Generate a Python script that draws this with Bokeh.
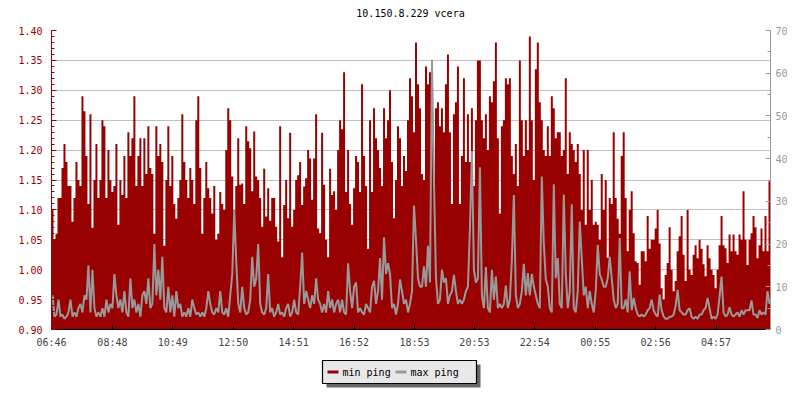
from bokeh.plotting import figure
from bokeh.layouts import column
from bokeh.models import (Range1d, LinearAxis, FixedTicker, PrintfTickFormatter)
from bokeh.core.properties import value
from bokeh.embed import file_html
from bokeh.resources import INLINE

title_text = "10.150.8.229 vcera"
legend_labels = ["min ping", "max ping"]
time_labels = ["06:46", "08:48", "10:49", "12:50", "14:51", "16:52",
               "18:53", "20:53", "22:54", "00:55", "02:56", "04:57"]
left_ticks = [0.90, 0.95, 1.00, 1.05, 1.10, 1.15, 1.20, 1.25, 1.30, 1.35, 1.40]
right_ticks = [0, 10, 20, 30, 40, 50, 60, 70]

# min ping (ms, left axis), one value per 4 minutes over 24 h
min_ping = [
    1.10, 1.05, 1.06, 1.12, 1.12, 1.17, 1.21, 1.18, 1.14, 1.14, 1.08, 1.12, 1.18, 1.15, 1.14, 1.29, 1.265, 1.19,
    1.11, 1.26, 1.07, 1.15, 1.21, 1.12, 1.15, 1.25, 1.24, 1.12, 1.20, 1.15, 1.13, 1.14, 1.21, 1.075, 1.15, 1.125,
    1.19, 1.12, 1.23, 1.19, 1.22, 1.29, 1.14, 1.19, 1.22, 1.14, 1.22, 1.16, 1.24, 1.17, 1.16, 1.06, 1.24, 1.19,
    1.21, 1.18, 1.04, 1.15, 1.24, 1.14, 1.19, 1.11, 1.085, 1.12, 1.15, 1.26, 1.18, 1.15, 1.12, 1.17, 1.15, 1.11,
    1.25, 1.29, 1.17, 1.06, 1.12, 1.18, 1.136, 1.12, 1.094, 1.14, 1.05, 1.06, 1.13, 1.11, 1.10, 1.20, 1.27, 1.25,
    1.156, 1.10, 1.14, 1.22, 1.142, 1.144, 1.11, 1.24, 1.215, 1.203, 1.131, 1.231, 1.156, 1.15, 1.12, 1.072, 1.169, 1.089,
    1.136, 1.082, 1.12, 1.12, 1.072, 1.047, 1.24, 1.021, 1.108, 1.15, 1.086, 1.229, 1.072, 1.10, 1.15, 1.158, 1.18, 1.108,
    1.139, 1.153, 1.20, 1.186, 1.117, 1.186, 1.26, 1.069, 1.061, 1.229, 1.142, 1.05, 1.021, 1.169, 1.125, 1.131, 1.10, 1.20,
    1.25, 1.235, 1.33, 1.13, 1.20, 1.11, 1.075, 1.136, 1.19, 1.18, 1.13, 1.31, 1.19, 1.14, 1.035, 1.25, 1.13, 1.27,
    1.22, 1.20, 1.17, 1.14, 1.27, 1.22, 1.25, 1.30, 1.18, 1.086, 1.15, 1.24, 1.22, 1.14, 1.19, 1.165, 1.25, 1.32,
    1.29, 1.23, 1.38, 1.31, 1.27, 1.16, 1.15, 1.34, 1.31, 1.33, 1.35, 1.14, 1.27, 1.28, 1.24, 1.27, 1.23, 1.31,
    1.36, 1.23, 1.11, 1.26, 1.28, 1.34, 1.11, 1.19, 1.32, 1.18, 1.26, 1.18, 1.27, 1.14, 1.25, 1.35, 1.35, 1.25,
    1.22, 1.26, 1.20, 1.29, 1.28, 1.315, 1.38, 1.22, 1.094, 1.24, 1.25, 1.32, 1.31, 1.32, 1.19, 1.16, 1.21, 1.14,
    1.35, 1.25, 1.19, 1.25, 1.20, 1.39, 1.25, 1.15, 1.335, 1.38, 1.28, 1.25, 1.20, 1.19, 1.24, 1.19, 1.29, 1.27,
    1.22, 1.23, 1.23, 1.19, 1.20, 1.32, 1.16, 1.23, 1.21, 1.20, 1.18, 1.21, 1.16, 1.10, 1.20, 1.075, 1.20, 1.10,
    1.15, 1.075, 1.08, 1.075, 1.05, 1.16, 1.10, 1.15, 1.02, 1.12, 1.11, 1.23, 1.12, 1.085, 1.06, 1.19, 1.23, 1.12,
    1.031, 1.10, 1.131, 1.061, 1.014, 1.011, 0.975, 1.031, 1.031, 1.014, 1.09, 1.035, 1.05, 1.05, 1.069, 1.10, 1.044, 0.969,
    0.95, 0.991, 1.011, 1.071, 1.0, 0.964, 0.981, 1.031, 1.056, 1.09, 1.025, 0.981, 1.10, 1.0, 0.991, 1.025, 1.041, 1.019,
    1.05, 1.035, 1.009, 0.989, 1.041, 1.019, 1.0, 0.991, 0.969, 1.0, 1.041, 1.09, 1.041, 1.036, 1.011, 1.059, 1.031, 1.059,
    1.031, 1.025, 1.059, 1.05, 1.131, 1.05, 1.008, 1.05, 1.061, 1.09, 1.071, 1.019, 1.041, 1.069, 1.031, 1.09, 1.031, 1.148,
]

# max ping (ms, right axis)
max_ping = [
    8, 3, 3.5, 7, 3, 3.5, 2.5, 3, 4, 7, 3, 4, 3, 5, 6, 4, 8, 7, 15, 4, 14, 5, 3, 4, 3, 5, 3, 7, 4, 6,
    5, 13, 8, 5, 7, 4, 9, 4, 3, 12, 5, 7, 4, 6, 3, 8, 9, 6, 12, 5, 6, 20, 8, 14, 7, 17, 5, 4, 10, 4,
    8, 3, 9, 5, 6, 3, 4, 3, 5, 3, 7, 5,
    3.5, 4, 3, 4, 3, 5, 9, 6, 4, 3.5, 5, 4, 9, 4, 3.5, 5, 3, 8, 13, 28, 16, 6, 4, 10, 5, 3.5, 4, 7, 17, 10,
    12, 20, 6, 4, 3.5, 5, 13, 4, 5, 3, 4, 6, 3.5, 4, 3, 5, 6, 3, 4, 7, 4, 3.5, 10, 18, 6, 9, 7, 5, 8, 6,
    12, 7, 6, 4, 6, 4, 9, 5, 7, 4, 6, 7,
    4, 7, 4, 3.5, 15.5, 9, 5, 10, 11, 4, 5, 4, 3.5, 6, 5, 4, 10, 11.4, 6, 9, 16.7, 7, 21.6, 13, 15.5, 13, 5, 6, 3.5, 6,
    11.7, 9, 6, 7, 4, 6, 9, 29, 21, 12, 10, 10, 14.8, 10, 19.6, 11, 63, 35, 12, 6, 7, 14, 11, 12, 6, 8, 9, 12.8, 9, 6,
    7, 6, 7, 9, 10, 23.7, 41.8, 14, 11, 12, 38, 8,
    5, 14.6, 5, 4, 14, 7, 12.4, 5, 6, 5, 6, 10.3, 5, 7, 16.3, 31.5, 8, 5, 6, 9, 15.4, 8, 13.2, 8, 13, 10, 8, 6, 5, 35.8,
    20, 11.8, 10, 5, 4, 34, 12, 16.7, 6, 5, 31.6, 13, 5, 9, 29.3, 5, 4, 9, 25.3, 16.7, 8, 10, 5, 9, 6, 4, 9, 19.8, 13, 11.7,
    10, 10, 12, 17, 12, 7, 5, 6, 21.4, 5, 5, 7,
    4, 13.6, 4.5, 7.4, 5, 3.5, 3, 3.5, 3, 3.5, 4.5, 5, 7, 4.5, 3.5, 3, 8.2, 4.5, 3, 2.5, 2.5, 3, 3, 3.5, 5.5, 9.3, 4.5, 4, 3.5, 3.5,
    4.5, 5, 3, 2.5, 3, 2.5, 3.5, 3.5, 4.5, 5, 7.4, 5, 2.5, 3, 2.5, 3.5, 7.8, 12.4, 4, 3, 3.5, 5.2, 3.5, 3, 3.5, 4, 3, 4.5, 3.5, 4.5,
    4.5, 4.5, 6.8, 3.5, 3.5, 2.7, 4.5, 3.5, 4, 3.5, 9, 6,
]

RED = "#990000"
GRAY = "#999999"
FONT = "DejaVu Sans Mono"
FS = "10px"

day = 24 * 60
h0, m0 = map(int, time_labels[0].split(":"))
start = h0 * 60 + m0


def minutes(s):
    h, m = map(int, s.split(":"))
    return (h * 60 + m - start) % day


tick_pos = [minutes(s) for s in time_labels]
n = len(min_ping)
step = day / n
xs = [i * step for i in range(n)] + [day]
red = min_ping + [min_ping[-1]]
xc = [i * step + step / 2 for i in range(n)]


def strip(height):
    f = figure(width=800, height=height, output_backend="svg", toolbar_location=None,
               x_range=Range1d(51, 770), y_range=Range1d(height, 0),
               x_axis_type=None, y_axis_type=None,
               min_border_left=51, min_border_right=30, min_border_top=0, min_border_bottom=0)
    f.outline_line_color = None
    f.grid.visible = False
    f.background_fill_color = "white"
    f.border_fill_color = "white"
    return f


# title strip (data units = pixels)
hd = strip(24)
hd.text(x=[410], y=[13], text=[title_text], text_font=value(FONT), text_font_size=value(FS),
        text_baseline="middle", text_align="center", text_color="black")

p = figure(width=800, height=326, output_backend="svg", toolbar_location=None,
           x_range=Range1d(0, day), y_range=Range1d(left_ticks[0], left_ticks[-1]),
           min_border_left=51, min_border_right=30, min_border_top=6, min_border_bottom=20)
p.extra_y_ranges = {"maxr": Range1d(right_ticks[0], right_ticks[-1])}
p.outline_line_color = None
p.background_fill_color = "white"
p.border_fill_color = "white"

# left axis
left_minor = [round(left_ticks[0] + 0.01 * i, 2) for i in range(51)]
lt = FixedTicker(ticks=left_ticks, minor_ticks=left_minor)
ya = p.yaxis[0]
ya.ticker = lt
ya.formatter = PrintfTickFormatter(format="%.2f")
ya.axis_line_color = RED
ya.major_tick_line_color = RED
ya.minor_tick_line_color = RED
ya.major_label_text_color = RED
ya.major_label_text_font = FONT
ya.major_label_text_font_size = FS
ya.major_tick_in = 5
ya.major_tick_out = 0
ya.minor_tick_in = 3
ya.minor_tick_out = 0
ya.major_label_standoff = 9

p.ygrid.ticker = lt
p.ygrid.grid_line_color = "#c0c0c0"
p.xgrid.visible = False

# bottom axis
xa = p.xaxis[0]
xa.ticker = FixedTicker(ticks=tick_pos)
xa.major_label_overrides = {t: s for t, s in zip(tick_pos, time_labels)}
xa.axis_line_color = "black"
xa.major_tick_line_color = "black"
xa.minor_tick_line_color = None
xa.major_tick_in = 5
xa.major_tick_out = 0
xa.major_label_text_font = FONT
xa.major_label_text_font_size = FS
xa.major_label_standoff = 7

# right axis
right_minor = [v + 5 for v in right_ticks[:-1]]
ra = LinearAxis(y_range_name="maxr", ticker=FixedTicker(ticks=right_ticks, minor_ticks=right_minor))
ra.axis_line_color = GRAY
ra.major_tick_line_color = GRAY
ra.minor_tick_line_color = GRAY
ra.major_label_text_color = GRAY
ra.major_label_text_font = FONT
ra.major_label_text_font_size = FS
ra.major_tick_in = 5
ra.major_tick_out = 0
ra.minor_tick_in = 3
ra.minor_tick_out = 0
ra.major_label_standoff = 5
p.add_layout(ra, "right")

# min ping: filled area; max ping: jagged line on the right-hand scale
p.varea_step(x=xs, y1=left_ticks[0], y2=red, step_mode="after",
             fill_color=RED, fill_alpha=1.0)
p.line(x=xc, y=max_ping, line_color=GRAY, line_width=2, y_range_name="maxr")

# legend strip below the chart (data units = pixels)
lg = strip(50)
lg.quad(left=[326], right=[480], top=[14], bottom=[37], fill_color="#666666", line_color=None)
lg.quad(left=[322], right=[476], top=[10], bottom=[33], fill_color="#e8e8e8",
        line_color="black", line_width=1.2)
lg.segment(x0=[327, 395], y0=[21.5, 21.5], x1=[338, 406], y1=[21.5, 21.5],
           line_color=[RED, GRAY], line_width=3)
lg.text(x=[342, 410], y=[21.5, 21.5], text=legend_labels,
        text_font=value(FONT), text_font_size=value(FS), text_baseline="middle",
        text_align="left", text_color="black")

layout = column(hd, p, lg, spacing=0)
open("out.html", "w").write(file_html(layout, INLINE))
